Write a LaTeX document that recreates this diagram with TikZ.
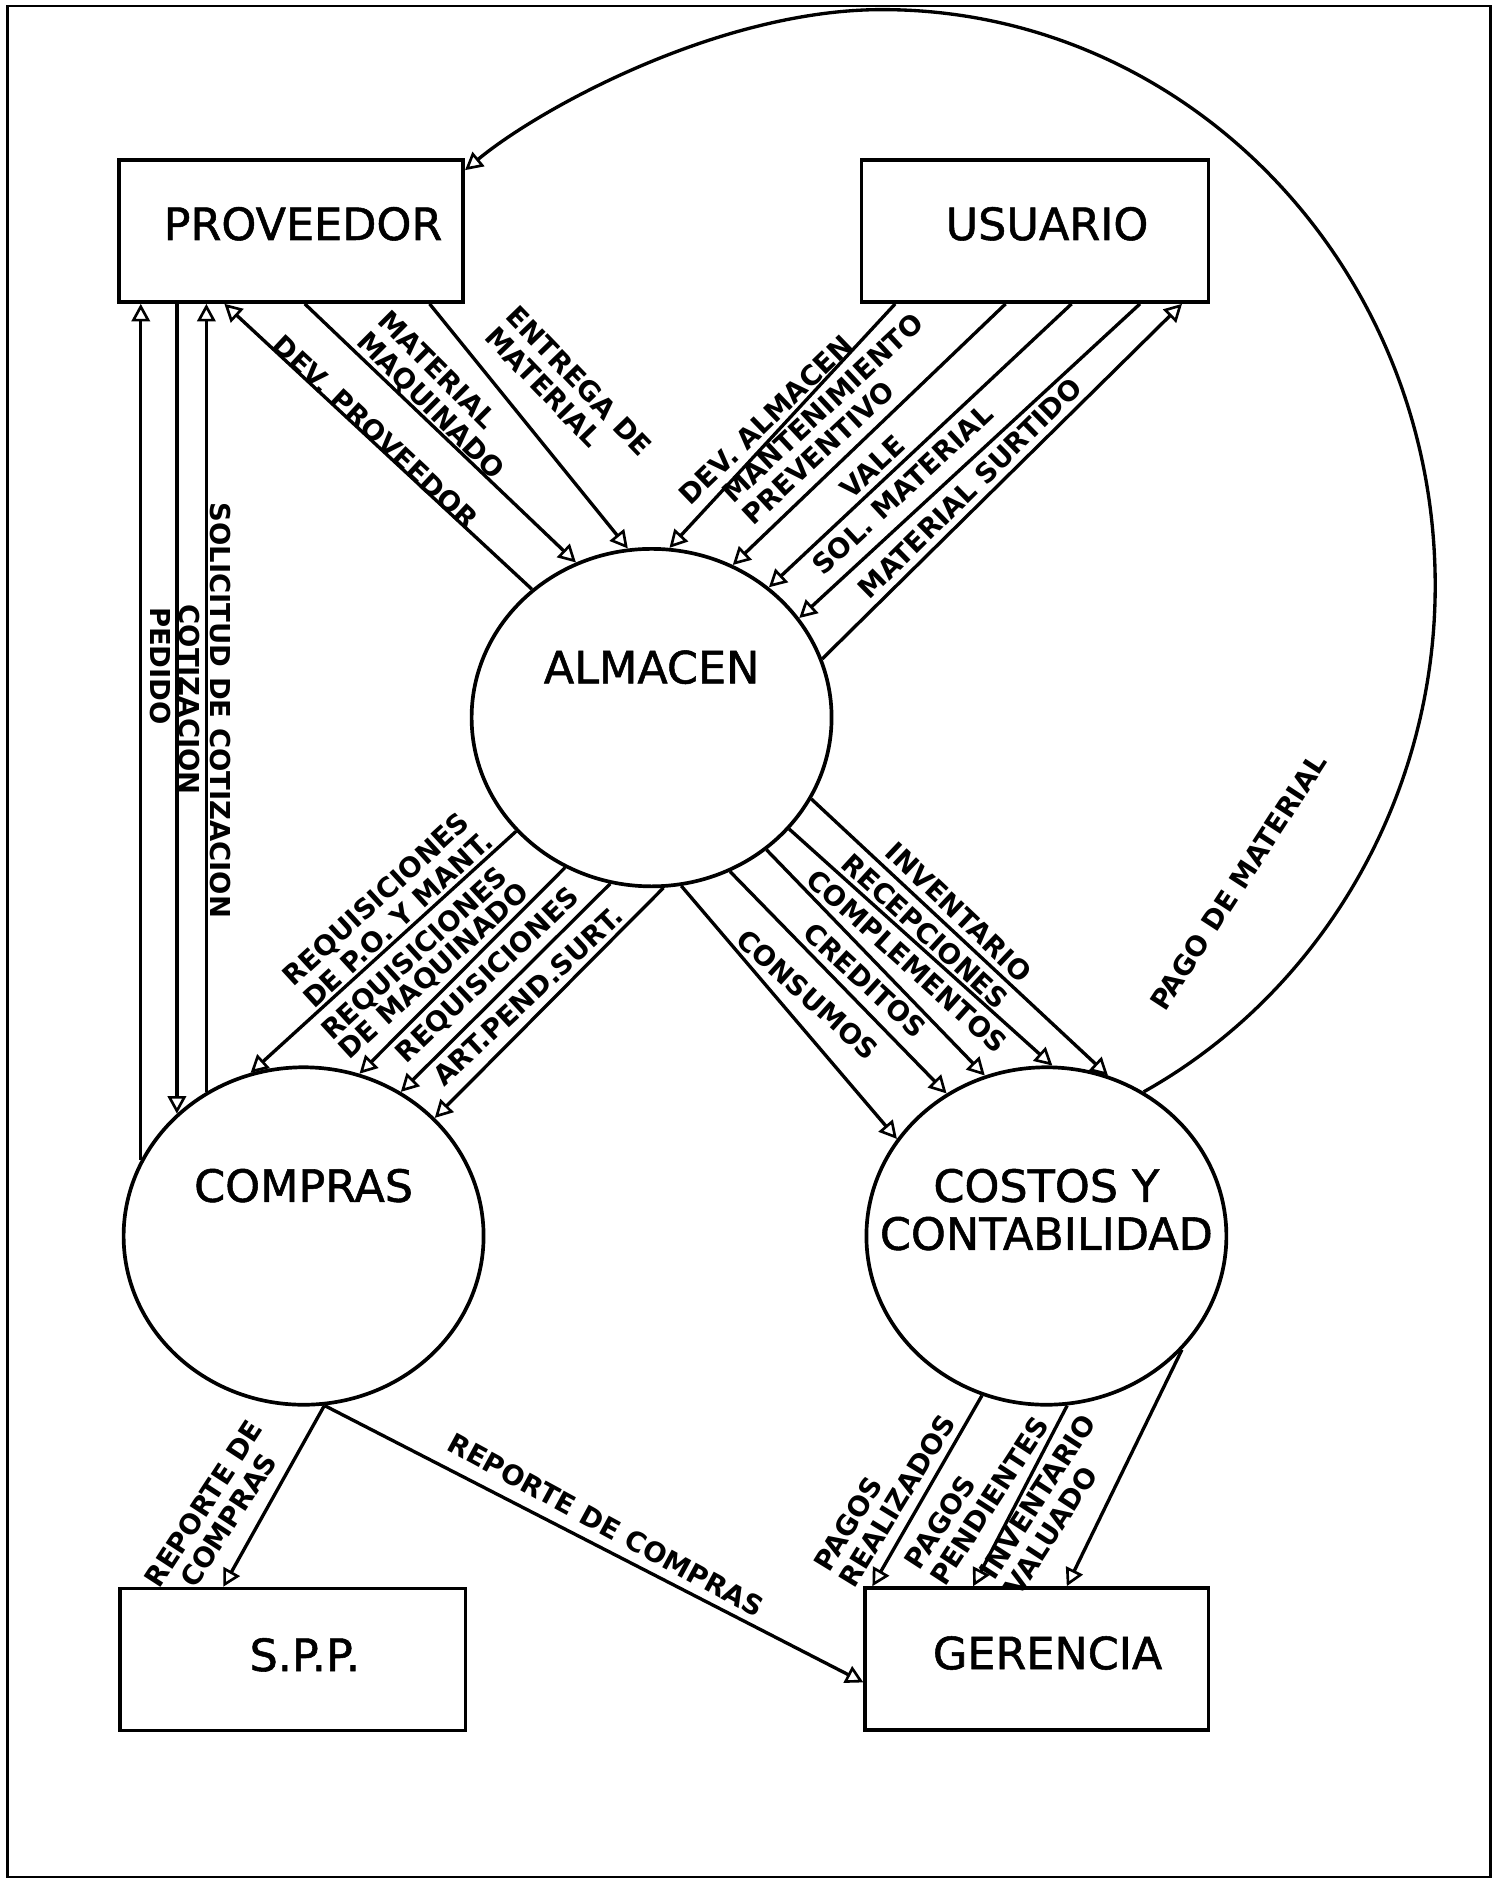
\documentclass[tikz,border=0pt]{standalone}
\usepackage{fontspec}
\setmainfont{DejaVu Sans}
\newfontfamily\bigfont[FakeBold=1.2]{DejaVu Sans}
\usetikzlibrary{arrows.meta,shapes.geometric,calc}
\begin{document}
\begin{tikzpicture}[x=0.024cm, y=-0.024cm, line width=1.9pt,
  flow/.style={-{Triangle[open,length=10pt,width=10.5pt,line width=1.5pt]}, line width=1.9pt},
  box/.style={draw, rectangle, line width=2.1pt, minimum height=2.84cm, inner sep=0pt},
  proc/.style={draw, ellipse, line width=2.1pt, minimum width=7.2cm, minimum height=6.75cm, inner sep=0pt},
  bigtext/.style={font={\bigfont\fontsize{25.3}{27.3}\selectfont}, inner sep=0pt},
  lbl/.style={font={\bfseries\fontsize{15.6}{17}\selectfont}, inner sep=0pt, align=left},
  tightlbl/.style={font={\bfseries\fontsize{15.6}{13.5}\selectfont}}]
\useasboundingbox (0,0) rectangle (1249.17,1568.33);
% frame
\draw[line width=1.5pt] (6,5) rectangle (1242,1564);
% external entities
\node[box, minimum width=6.888cm] (prov) at (242.5,192.5) {};
\node[box, minimum width=6.936cm] (usu) at (862.5,192.5) {};
\node[box, minimum width=6.912cm] (spp) at (244,1383) {};
\node[box, minimum width=6.864cm] (ger) at (864,1382.5) {};
% processes
\node[proc] (alm) at (543,598) {};
\node[proc] (comp) at (253,1030) {};
\node[proc] (cost) at (872,1030) {};
% titles
\node[bigtext] (provt) at ($(prov.center)+(10,-6)$) {PROVEEDOR};
\node[bigtext] (usut) at ($(usu.center)+(10,-6)$) {USUARIO};
\node[bigtext] (sppt) at ($(spp.center)+(10,-4)$) {S.P.P.};
\node[bigtext] (gert) at ($(ger.center)+(9,-5)$) {GERENCIA};
\node[bigtext] (almt) at ($(alm.center)+(0,-42)$) {ALMACEN};
\node[bigtext] (compt) at ($(comp.center)+(0,-42)$) {COMPRAS};
\node[bigtext, align=center] (costt) at ($(cost.center)+(0,-22)$) {COSTOS Y\\CONTABILIDAD};
% Proveedor <-> Almacen
\draw[flow] (alm.133.6) -- (187,0 |- prov.south);
\draw[flow] (254,0 |- prov.south) -- (alm.116.7);
\draw[flow] (358,0 |- prov.south) -- (alm.98.3);
% Usuario <-> Almacen
\draw[flow] (746,0 |- usu.south) -- (alm.84.8);
\draw[flow] (838,0 |- usu.south) -- (alm.62.4);
\draw[flow] (893,0 |- usu.south) -- (alm.48);
\draw[flow] (950,0 |- usu.south) -- (alm.34.2);
\draw[flow] (alm.19.8) -- (985,0 |- usu.south);
% Compras <-> Proveedor
\draw[flow] (comp.155.7) -- (comp.155.7 |- prov.south);
\draw[flow] (comp.136.4 |- prov.south) -- (comp.136.4);
\draw[flow] (comp.124.5) -- (comp.124.5 |- prov.south);
% Almacen -> Compras
\draw[flow] (alm.220.4) -- (comp.108.3);
\draw[flow] (alm.240.6) -- (comp.71.1);
\draw[flow] (alm.256.4) -- (comp.56.7);
\draw[flow] (alm.274.4) -- (comp.42.5);
% Almacen -> Costos
\draw[flow] (alm.333.8) -- (cost.69.6);
\draw[flow] (alm.321.4) -- (cost.88.8);
\draw[flow] (alm.311.2) -- (cost.111.7);
\draw[flow] (alm.297.3) -- (cost.125.6);
\draw[flow] (alm.280.2) -- (cost.147);
% Compras -> SPP, Gerencia
\draw[flow] (comp.277.4) -- (186,0 |- spp.north);
\draw[flow] (comp.277.4) -- (ger.west |- 0,1402);
% Costos -> Gerencia
\draw[flow] (cost.248.2) -- (727,0 |- ger.north);
\draw[flow] (cost.277) -- (811,0 |- ger.north);
\draw[flow] (cost.320) -- (889,0 |- ger.north);
% Pago de material
\coordinate (pagoR) at (1196,488);
\coordinate (pagoT) at (735,8);
\draw[flow] (cost.56.8) .. controls (1101,827) and (1196,665) .. (pagoR)
  .. controls (1196,223) and (990,8) .. (pagoT)
  .. controls (600,8) and (450,90) .. ([yshift=-0.24cm]prov.north east);
% labels
\node[lbl, rotate=-43] (l1) at (313,360) {DEV. PROVEEDOR};
\node[lbl, rotate=-45] (l2) at (367,330) {MATERIAL\\MAQUINADO};
\node[lbl, rotate=-46] (l3) at (474,326) {ENTREGA DE\\MATERIAL};
\node[lbl, rotate=44] (l4) at (638,350) {DEV. ALMACEN};
\node[lbl, rotate=43] (l5) at (694,349) {MANTENIMIENTO\\PREVENTIVO};
\node[lbl, rotate=43] (l6) at (727,389) {VALE};
\node[lbl, rotate=43] (l7) at (752,408) {SOL. MATERIAL};
\node[lbl, rotate=44.5] (l8) at (808,407) {MATERIAL SURTIDO};
\node[lbl, rotate=-90] (l9) at (184,592) {SOLICITUD DE COTIZACION};
\node[lbl, rotate=-90] (l10) at (158,583) {COTIZACION};
\node[lbl, rotate=-90] (l11) at (134,555) {PEDIDO};
\node[lbl, rotate=42.5] (l12) at (323,757) {REQUISICIONES\\DE P.O. Y MANT.};
\node[lbl, tightlbl, rotate=42.5] (l13) at (355,802) {REQUISICIONES\\DE MAQUINADO};
\node[lbl, rotate=43.5] (l14) at (407,813) {REQUISICIONES};
\node[lbl, rotate=43] (l15) at (440,830) {ART.PEND.SURT.};
\node[lbl, rotate=-43.5] (l16) at (799,760) {INVENTARIO};
\node[lbl, rotate=-42.5] (l17) at (771,776) {RECEPCIONES};
\node[lbl, rotate=-42] (l18) at (756,801) {COMPLEMENTOS};
\node[lbl, rotate=-42.5] (l19) at (721,817) {CREDITOS};
\node[lbl, rotate=-42] (l20) at (673,829) {CONSUMOS};
\node[lbl, rotate=57] (l21) at (1032,735) {PAGO DE MATERIAL};
\node[lbl, rotate=57, align=center] (l22) at (180,1260) {REPORTE DE\\COMPRAS};
\node[lbl, rotate=-28.5] (l23) at (505,1271) {REPORTE DE COMPRAS};
\node[lbl, rotate=58.5] (l24) at (737,1244) {PAGOS\\REALIZADOS};
\node[lbl, rotate=57] (l25) at (814,1244) {PAGOS\\PENDIENTES};
\node[lbl, rotate=57] (l26) at (875,1254) {INVENTARIO\\VALUADO};
\end{tikzpicture}
\end{document}
